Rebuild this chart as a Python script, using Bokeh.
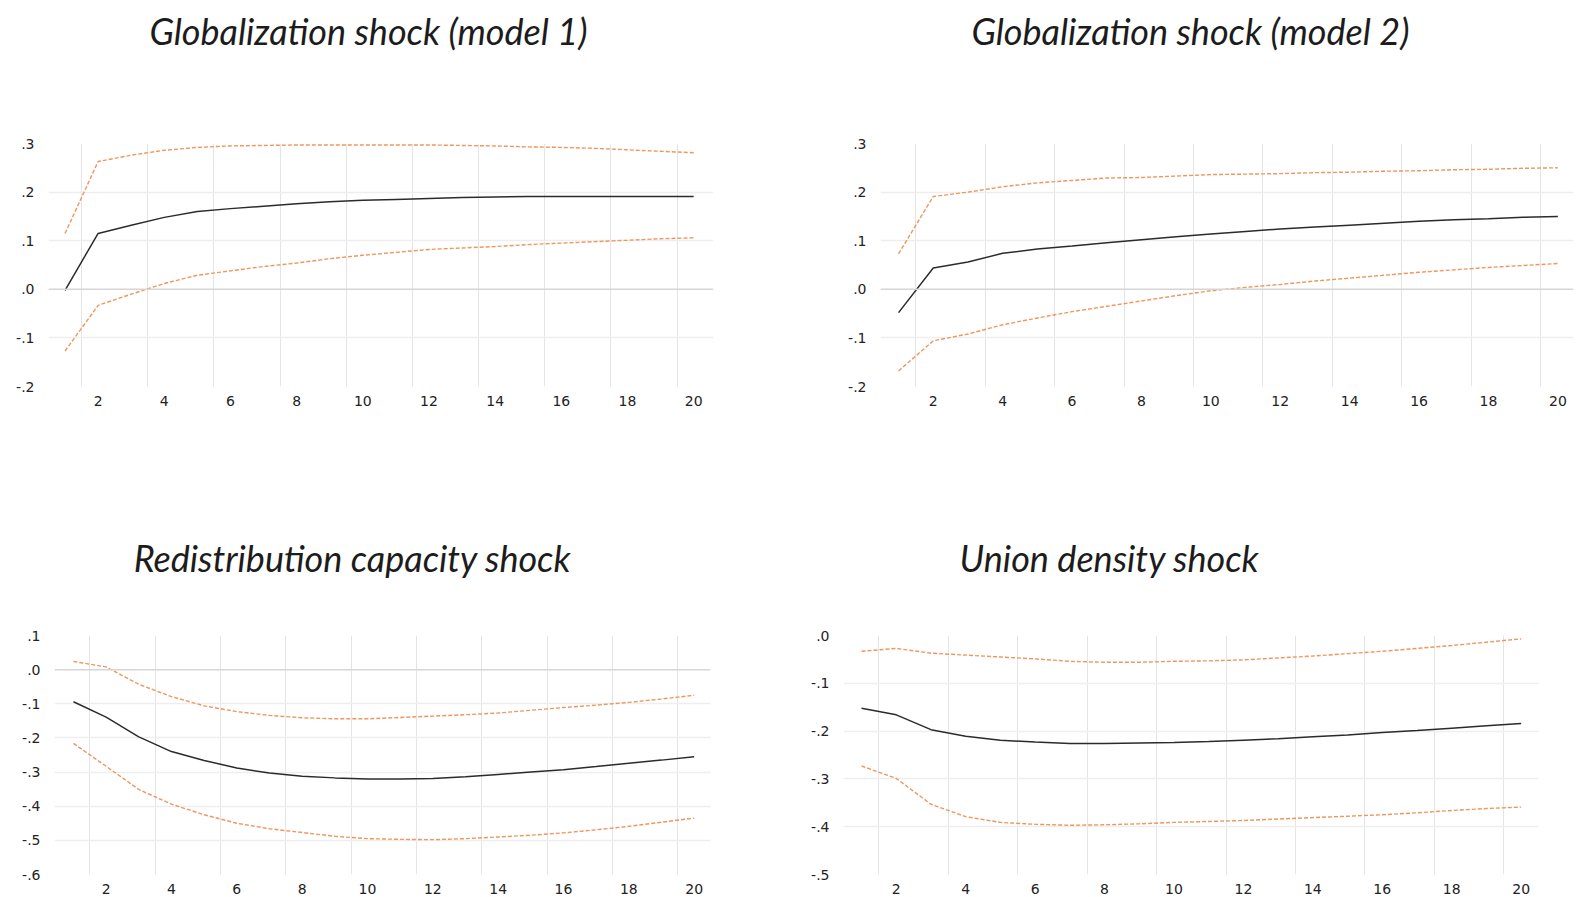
from bokeh.plotting import figure
from bokeh.layouts import column, row
from bokeh.models import FixedTicker, Span, Label
from bokeh.embed import file_html
from bokeh.resources import INLINE

periods = list(range(1, 21))
x_ticks = [2, 4, 6, 8, 10, 12, 14, 16, 18, 20]
x_grid = [1.5, 3.5, 5.5, 7.5, 9.5, 11.5, 13.5, 15.5, 17.5, 19.5]

titles = ["Globalization shock (model 1)", "Globalization shock (model 2)",
          "Redistribution capacity shock", "Union density shock"]

g1_mid = [-0.002, 0.115, 0.132, 0.148, 0.160, 0.166, 0.171, 0.176, 0.180, 0.183,
          0.185, 0.187, 0.189, 0.190, 0.191, 0.191, 0.191, 0.191, 0.191, 0.191]
g1_up = [0.115, 0.263, 0.276, 0.286, 0.292, 0.295, 0.296, 0.297, 0.297, 0.297,
         0.297, 0.297, 0.296, 0.295, 0.293, 0.292, 0.290, 0.287, 0.284, 0.281]
g1_lo = [-0.127, -0.033, -0.010, 0.012, 0.029, 0.038, 0.047, 0.054, 0.063, 0.070,
         0.076, 0.082, 0.085, 0.088, 0.092, 0.095, 0.098, 0.101, 0.104, 0.106]

g2_mid = [-0.048, 0.044, 0.056, 0.074, 0.083, 0.089, 0.096, 0.102, 0.108, 0.114,
          0.119, 0.124, 0.128, 0.132, 0.136, 0.140, 0.143, 0.145, 0.148, 0.150]
g2_up = [0.073, 0.191, 0.200, 0.211, 0.219, 0.224, 0.229, 0.230, 0.233, 0.236,
         0.237, 0.238, 0.240, 0.241, 0.243, 0.244, 0.246, 0.247, 0.249, 0.250]
g2_lo = [-0.168, -0.106, -0.092, -0.073, -0.059, -0.046, -0.035, -0.024, -0.013, -0.003,
         0.004, 0.010, 0.017, 0.023, 0.029, 0.035, 0.040, 0.045, 0.049, 0.053]

r_mid = [-0.094, -0.139, -0.197, -0.240, -0.266, -0.288, -0.303, -0.312, -0.317, -0.320,
         -0.320, -0.319, -0.314, -0.307, -0.300, -0.293, -0.284, -0.274, -0.265, -0.255]
r_up = [0.024, 0.008, -0.043, -0.079, -0.106, -0.123, -0.134, -0.141, -0.144, -0.144,
        -0.140, -0.136, -0.132, -0.127, -0.119, -0.111, -0.104, -0.096, -0.086, -0.075]
r_lo = [-0.216, -0.283, -0.351, -0.394, -0.425, -0.450, -0.466, -0.477, -0.488, -0.495,
        -0.497, -0.498, -0.495, -0.490, -0.485, -0.478, -0.469, -0.459, -0.447, -0.435]

u_mid = [-0.152, -0.166, -0.197, -0.211, -0.219, -0.223, -0.226, -0.226, -0.225, -0.224,
         -0.222, -0.219, -0.216, -0.212, -0.208, -0.203, -0.199, -0.194, -0.189, -0.184]
u_up = [-0.033, -0.027, -0.037, -0.041, -0.045, -0.049, -0.054, -0.056, -0.056, -0.054,
        -0.053, -0.051, -0.047, -0.043, -0.038, -0.033, -0.027, -0.021, -0.014, -0.007]
u_lo = [-0.273, -0.299, -0.353, -0.379, -0.391, -0.395, -0.397, -0.396, -0.394, -0.391,
        -0.389, -0.387, -0.384, -0.381, -0.378, -0.375, -0.371, -0.366, -0.362, -0.359]

y_ticks_top = [-0.2, -0.1, 0.0, 0.1, 0.2, 0.3]
y_labels_top = ["-.2", "-.1", ".0", ".1", ".2", ".3"]
y_ticks_r = [-0.6, -0.5, -0.4, -0.3, -0.2, -0.1, 0.0, 0.1]
y_labels_r = ["-.6", "-.5", "-.4", "-.3", "-.2", "-.1", ".0", ".1"]
y_ticks_u = [-0.5, -0.4, -0.3, -0.2, -0.1, 0.0]
y_labels_u = ["-.5", "-.4", "-.3", "-.2", "-.1", ".0"]

ORANGE = "#ee965d"
MID = "#2b2b2b"


def title_fig(text, w, h, cx, cy_from_bottom):
    t = figure(width=w, height=h, x_range=(0, 1), y_range=(0, 1),
               x_axis_type=None, y_axis_type=None,
               output_backend="svg", toolbar_location=None, min_border=0)
    t.outline_line_color = None
    t.grid.visible = False
    t.add_layout(Label(x=cx, y=cy_from_bottom, x_units="screen", y_units="screen",
                       text=text, text_font="Lato", text_font_style="italic",
                       text_font_size="36px", text_color="#1c1c1c",
                       text_align="center", text_baseline="middle"))
    return t


def panel(mid, up, lo, yticks, ylabels, xr, yr, w, h, b):
    p = figure(width=w, height=h, x_range=xr, y_range=yr,
               output_backend="svg", toolbar_location=None,
               min_border_left=b[0], min_border_right=b[1],
               min_border_top=b[2], min_border_bottom=b[3])
    p.outline_line_color = None
    p.background_fill_color = "white"
    p.border_fill_color = "white"
    for ax in (p.xaxis, p.yaxis):
        ax.axis_line_color = None
        ax.major_tick_line_color = None
        ax.minor_tick_line_color = None
        ax.major_label_text_font = "DejaVu Sans"
        ax.major_label_text_font_size = "14px"
        ax.major_label_text_color = "#222222"
    p.xaxis.ticker = FixedTicker(ticks=x_ticks)
    p.xaxis.major_label_standoff = 3
    p.yaxis.ticker = FixedTicker(ticks=yticks)
    p.yaxis.major_label_overrides = {t: l for t, l in zip(yticks, ylabels)}
    p.yaxis.major_label_standoff = 8
    p.xgrid.ticker = FixedTicker(ticks=x_grid)
    p.xgrid.grid_line_color = "#e4e4e4"
    p.xgrid.grid_line_width = 1
    interior = [t for t in yticks if yr[0] < t < yr[1] and t != 0.0]
    p.ygrid.ticker = FixedTicker(ticks=interior)
    p.ygrid.grid_line_color = "#eeeeee"
    p.ygrid.grid_line_width = 1.3
    if yr[0] < 0.0 < yr[1]:
        p.add_layout(Span(location=0.0, dimension="width",
                          line_color="#d6d6d6", line_width=1.5))
    p.line(periods, up, line_color=ORANGE, line_width=1.4, line_dash="4 2")
    p.line(periods, lo, line_color=ORANGE, line_width=1.4, line_dash="4 2")
    p.line(periods, mid, line_color=MID, line_width=1.5)
    return p


# rows: titles 0..60, plots 60..450, titles 450..590, plots 590..896
t1 = title_fig(titles[0], 790, 60, 368, 30)
t2 = title_fig(titles[1], 785, 60, 400, 30)
t3 = title_fig(titles[2], 790, 140, 352, 33)
t4 = title_fig(titles[3], 785, 140, 319, 33)

# borders: (left, right, top, bottom)
p1 = panel(g1_mid, g1_up, g1_lo, y_ticks_top, y_labels_top,
           (0.5, 20.6), (-0.2, 0.3), 790, 390, (48, 77, 83, 63))
p2 = panel(g2_mid, g2_up, g2_lo, y_ticks_top, y_labels_top,
           (0.48, 20.45), (-0.2, 0.3), 785, 390, (90, 2, 73, 64))
p3 = panel(r_mid, r_up, r_lo, y_ticks_r, y_labels_r,
           (0.42, 20.5), (-0.6, 0.1), 790, 306, (54, 80, 45, 18))
p4 = panel(u_mid, u_up, u_lo, y_ticks_u, y_labels_u,
           (0.48, 20.5), (-0.5, 0.0), 785, 306, (53, 37, 38, 18))

layout = column(row(t1, t2), row(p1, p2), row(t3, t4), row(p3, p4))
open("out.html", "w").write(file_html(layout, INLINE))
